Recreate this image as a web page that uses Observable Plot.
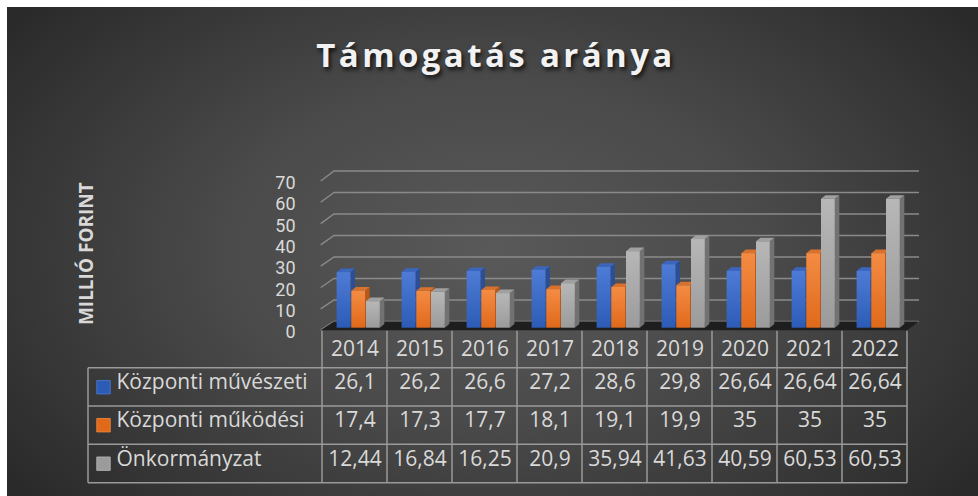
<!DOCTYPE html>
<html><head><meta charset="utf-8">
<script src="https://cdn.jsdelivr.net/npm/d3@7"></script>
<script src="https://cdn.jsdelivr.net/npm/@observablehq/plot@0.6"></script>
<style>
html,body{margin:0;padding:0;background:#fff;width:978px;height:496px;overflow:hidden;}
#bg{position:absolute;left:7px;top:7px;width:971px;height:489px;
  background:radial-gradient(ellipse 62% 78% at 50% 50%, #595959 0%, #4a4a4a 45%, #2a2a2a 100%);}
#fig{position:absolute;left:0;top:0;width:978px;}
#title{height:130px;box-sizing:border-box;padding-top:35px;padding-left:14px;text-align:center;
  font-family:"Open Sans";font-weight:bold;font-size:33px;letter-spacing:3.4px;color:#f2f2f2;line-height:40px;
  text-shadow:2px 3px 4px rgba(0,0,0,0.75);}
#fig svg{display:block;overflow:visible;}
</style></head>
<body>
<div id="bg"></div>
<div id="fig"><div id="title">Támogatás aránya</div></div>
<script>
const years = ["2014","2015","2016","2017","2018","2019","2020","2021","2022"];
const seriesNames = ["Központi művészeti","Központi működési","Önkormányzat"];
const muveszeti = [26.1,26.2,26.6,27.2,28.6,29.8,26.64,26.64,26.64];
const mukodesi = [17.4,17.3,17.7,18.1,19.1,19.9,35,35,35];
const onkormanyzat = [12.44,16.84,16.25,20.9,35.94,41.63,40.59,60.53,60.53];
const yTicks = [0,10,20,30,40,50,60,70];
const yTitle = "MILLIÓ FORINT";
const frontTop = ["#4d7bd6","#f48c44","#b7b7b7"];
const frontBottom = ["#2d5cb6","#e0691a","#9b9b9b"];
const sideColors = ["#2b4f96","#b8581a","#727272"];
const topColors = ["#3a66bd","#d8712d","#a0a0a0"];

const seriesValues = [muveszeti, mukodesi, onkormanyzat];
const rows = [];
seriesValues.forEach((vals, si) => vals.forEach((v, i) => rows.push({year: years[i], series: seriesNames[si], si, value: v})));
const fmt = v => String(v).replace(".", ",");

const W = 978, H = 366, ML = 318, MR = 67, MT = 48.6, MB = 168.3;
const BW = (W - ML - MR) / years.length;
const OFF = 14.6, BARW = 14.7, DX = 4.5, DY = -3.6;
const inL = si => OFF + si * BARW;
const inR = si => BW - (OFF + (si + 1) * BARW);

function decor(scales) {
  const x = scales.x, y = scales.y;
  const bw = x.bandwidth();
  const x0 = x(years[0]), xEnd = x(years[years.length - 1]) + bw;
  const g = d3.create("svg:g");
  const defs = g.append("defs");
  frontTop.forEach((c, si) => {
    const lg = defs.append("linearGradient").attr("id", "grad" + si).attr("x1", 0).attr("y1", 0).attr("x2", 0).attr("y2", 1);
    lg.append("stop").attr("offset", "0%").attr("stop-color", c);
    lg.append("stop").attr("offset", "100%").attr("stop-color", frontBottom[si]);
  });
  // 3D grid lines (back wall + left wall)
  for (const v of yTicks) {
    const yb = y(v) - 6.2 - v * 0.02, yf = y(v) + 2.4;
    g.append("path").attr("d", `M${x0 - 1.3},${yf}L${x0 + 12},${yb}L${xEnd + 12},${yb}`)
      .attr("fill", "none").attr("stroke", "#8a8a8a").attr("stroke-width", 1.4);
  }
  // floor
  const f0 = y(0) + 2.5, f1 = y(0) - 6.2;
  g.append("path").attr("d", `M${x0 - 1.3},${f0}L${xEnd},${f0}L${xEnd + 12},${f1}L${x0 + 12},${f1}Z`).attr("fill", "#1e1e1e");
  // bar sides and tops
  for (const yr of years) {
    for (let si = 0; si < 3; si++) {
      const d = rows.find(r => r.year === yr && r.si === si);
      const bx0 = x(yr) + inL(si), bx1 = x(yr) + bw - inR(si);
      const yt = y(d.value), yb = y(0);
      g.append("path").attr("d", `M${bx1},${yt}L${bx1 + DX},${yt + DY}L${bx1 + DX},${yb + DY}L${bx1},${yb}Z`).attr("fill", sideColors[si]);
      g.append("path").attr("d", `M${bx0},${yt}L${bx1},${yt}L${bx1 + DX},${yt + DY}L${bx0 + DX},${yt + DY}Z`).attr("fill", topColors[si]);
    }
  }
  // data table grid
  const yBase = y(0);
  const tl = "#9a9a9a";
  const hy = [40, 78.3, 116.6, 155].map(o => yBase + o);
  for (const yy of hy) g.append("line").attr("x1", 88).attr("x2", xEnd).attr("y1", yy).attr("y2", yy).attr("stroke", tl).attr("stroke-width", 1.5);
  for (let k = 0; k <= years.length; k++) {
    const xx = x0 + k * bw;
    g.append("line").attr("x1", xx).attr("x2", xx).attr("y1", yBase + 3).attr("y2", hy[3]).attr("stroke", tl).attr("stroke-width", 1.5);
  }
  g.append("line").attr("x1", 88).attr("x2", 88).attr("y1", hy[0]).attr("y2", hy[3]).attr("stroke", tl).attr("stroke-width", 1.5);
  return g.node();
}

function decorMark(...args) {
  const scales = args.find(a => a && typeof a.x === "function" && typeof a.y === "function");
  return decor(scales);
}

const rowDy = [61, 99, 137.5];
const marks = [decorMark];
for (let si = 0; si < 3; si++) {
  marks.push(Plot.barY(rows.filter(r => r.si === si), {
    x: "year", y: "value", fill: `url(#grad${si})`, insetLeft: inL(si), insetRight: inR(si)
  }));
}
marks.push(Plot.text(years, {x: d => d, frameAnchor: "bottom", dy: 27.5, fontSize: 21}));
for (let si = 0; si < 3; si++) {
  marks.push(Plot.text(rows.filter(r => r.si === si), {x: "year", text: d => fmt(d.value), frameAnchor: "bottom", dy: rowDy[si], fontSize: 21}));
  marks.push(Plot.dot([seriesNames[si]], {frameAnchor: "bottom-left", dx: -215, dy: rowDy[si] - 2, symbol: "square", r: 7.6, fill: frontBottom[si], stroke: frontTop[si], strokeWidth: 0.8}));
  marks.push(Plot.text([seriesNames[si]], {text: d => d, frameAnchor: "bottom-left", dx: -202, dy: rowDy[si], textAnchor: "start", fontSize: 21}));
}
marks.push(Plot.text(yTicks, {y: d => d, text: d => String(d), frameAnchor: "left", dx: -23, dy: 4.3, textAnchor: "end", fontSize: 18, fontFamily: "Roboto"}));
marks.push(Plot.text([yTitle], {text: d => d, frameAnchor: "left", textAnchor: "middle", dx: -232, dy: 0, rotate: -90, fontSize: 19, fontWeight: "bold"}));

const chart = Plot.plot({
  width: W, height: H,
  marginLeft: ML, marginRight: MR, marginTop: MT, marginBottom: MB,
  x: {type: "band", domain: years, paddingInner: 0, paddingOuter: 0, axis: null},
  y: {domain: [0, 70], axis: null},
  style: {fontFamily: "Open Sans", color: "#d9d9d9", background: "transparent", overflow: "visible"},
  marks
});
document.getElementById("fig").appendChild(chart);
</script>
</body></html>
